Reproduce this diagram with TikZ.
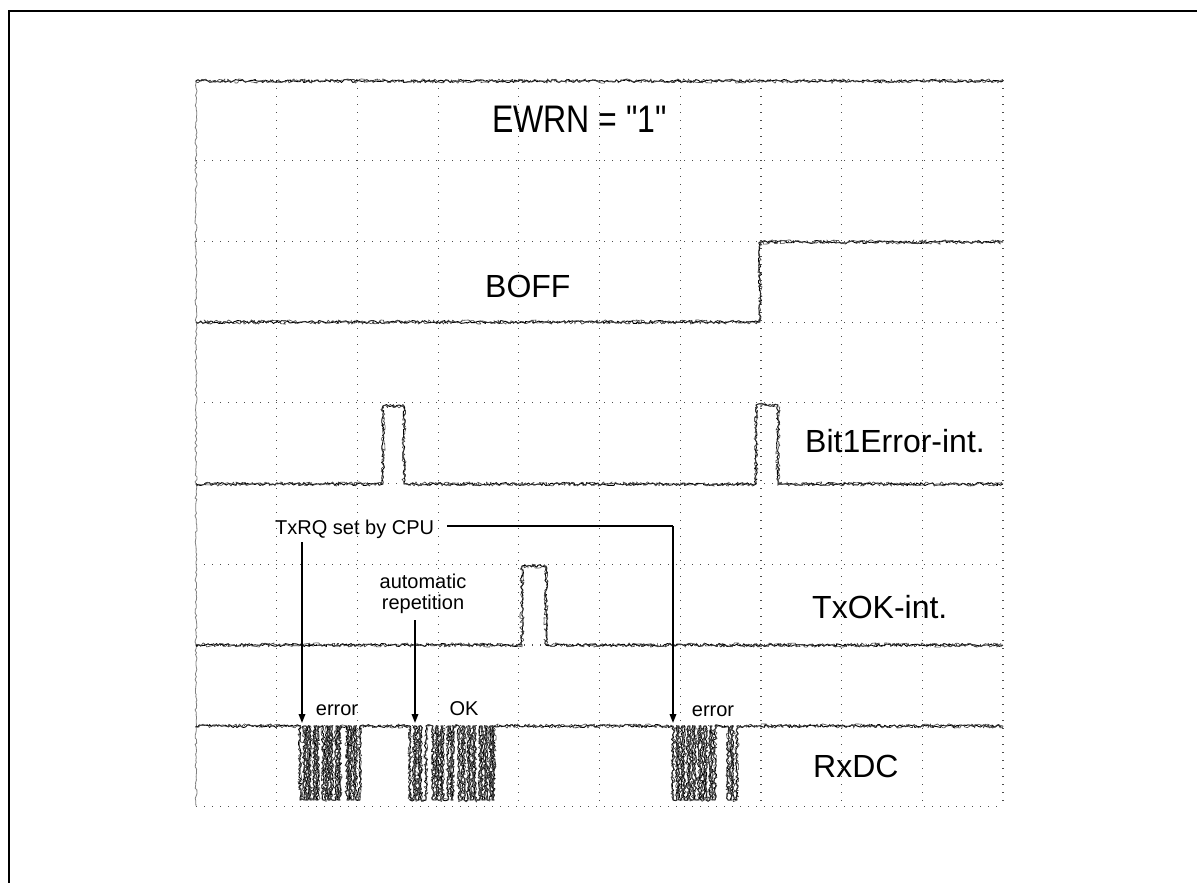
\documentclass[tikz,border=0pt]{standalone}
\usepackage{fontspec}
\setmainfont{Liberation Sans}[Ligatures=TeXOff]
\usetikzlibrary{decorations.pathmorphing,arrows.meta}
\tikzset{
  trace/.style={draw=black, line width=0.9pt, line join=round, decorate,
    decoration={random steps, segment length=2pt, amplitude=1.5pt}},
  tracefuzz/.style={draw=black!75, line width=0.6pt, line join=round, decorate,
    decoration={random steps, segment length=1.6pt, amplitude=2.2pt}},
  edgetrace/.style={draw=black!50, line width=0.8pt, decorate,
    decoration={random steps, segment length=2.5pt, amplitude=1pt}},
  gridline/.style={draw=black!70, line width=1.2pt, dash pattern=on 1.2pt off 6.8pt},
  biglab/.style={inner sep=0pt, font=\fontsize{32}{32}\selectfont},
  smalllab/.style={inner sep=0pt, font=\fontsize{20}{21}\selectfont},
  arr/.style={draw=black, line width=1.8pt, -{Triangle[length=9pt,width=6.5pt]}},
  leader/.style={draw=black, line width=1.8pt},
}
\begin{document}
\begin{tikzpicture}[x=1pt,y=-1pt]
\pgfmathsetseed{7}
\useasboundingbox (0,0) rectangle (1197,883);
\clip (0,0) rectangle (1197,883);
\fill[white] (0,0) rectangle (1197,883);
% outer frame (cropped at right and bottom)
\draw[line width=2.5pt] (9,11) rectangle (1215,905);
% grid
\foreach \k in {1,...,10} {
  \draw[gridline] ({196+80.7*\k},80) -- ({196+80.7*\k},806);
}
\foreach \k in {1,...,9} {
  \draw[gridline] (196,{80+80.7*\k}) -- (1003,{80+80.7*\k});
}
\draw[edgetrace] (196,80) -- (196,806);
% traces, each drawn twice for a noisy look
\foreach \st in {trace,tracefuzz} {
  % EWRN
  \draw[\st] (196,81) -- (1003,81);
  % BOFF
  \draw[\st] (196,322) -- (760,322) -- (760,242) -- (1003,242);
  % Bit1Error
  \draw[\st] (196,484) -- (383,484) -- (383,406) -- (404,406) -- (404,484)
    -- (756,484) -- (756,405) -- (778,405) -- (778,484) -- (1003,484);
  % TxOK
  \draw[\st] (196,645) -- (522,645) -- (522,566) -- (546,566) -- (546,645) -- (1003,645);
  % RxDC
  \draw[\st] (196,726)
    \foreach \a/\b in {300/304,306/308,310/314,316/318,323/326,328/330,332/336,338/340,347/349,351/354,356/360,
                       410/414,416/419,421/426,433/436,438/441,443/448,451/453,459/462,464/468,470/473,475/480,482/485,487/490,492/494,
                       673/677,679/682,684/688,690/693,695/699,701/704,706/710,712/715,728/731,733/737}
    { -- (\a,726) -- (\a,800) -- (\b,800) -- (\b,726) }
    -- (1003,726);
}
% labels
\node[biglab, anchor=base west, yscale=1.2] (ewrn) at (492,132) {EWRN = "1"};
\node[biglab, anchor=base west] (boff) at (485,297) {BOFF};
\node[biglab, anchor=base west] (bit1) at (805,452) {Bit1Error-int.};
\node[biglab, anchor=base west] (txok) at (812,618) {TxOK-int.};
\node[biglab, anchor=base west] (rxdc) at (813,777) {RxDC};
\node[smalllab, anchor=base west] (txrq) at (275,534) {TxRQ set by CPU};
\node[smalllab, anchor=base] (auto1) at (423,588) {automatic};
\node[smalllab, anchor=base] (auto2) at (423,609) {repetition};
\node[smalllab, anchor=base] (err1) at (337,715) {error};
\node[smalllab, anchor=base] (ok) at (464,715) {OK};
\node[smalllab, anchor=base] (err2) at (713,716) {error};
% arrows
\coordinate (a1s) at (302,542);
\coordinate (a1e) at (302,723);
\coordinate (a2s) at (415,620);
\coordinate (a2e) at (415,723);
\coordinate (a3s) at (447,526);
\coordinate (a3c) at (673,526);
\coordinate (a3e) at (673,723);
\draw[arr] (a1s) -- (a1e);
\draw[arr] (a2s) -- (a2e);
\draw[leader] (a3s) -- (a3c);
\draw[arr] (a3c) -- (a3e);
\end{tikzpicture}
\end{document}
